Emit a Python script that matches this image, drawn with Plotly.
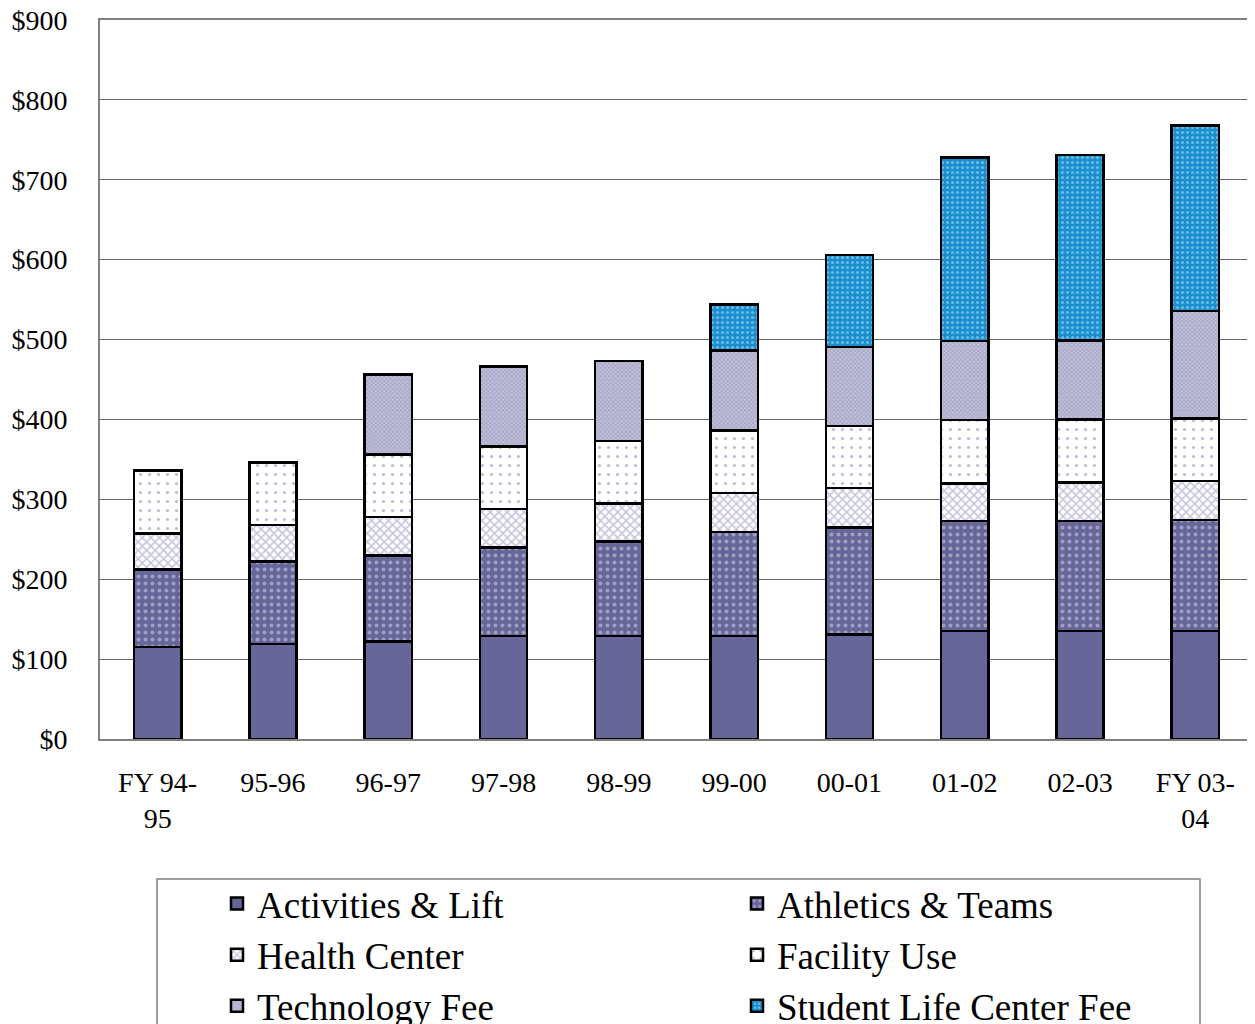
import plotly.graph_objects as go

categories = ["FY 94-<br>95", "95-96", "96-97", "97-98", "98-99", "99-00",
              "00-01", "01-02", "02-03", "FY 03-<br>04"]
activities = [115, 119, 122, 129, 129, 129, 131, 135, 135, 135]
athletics = [97, 103, 108, 111, 118, 130, 134, 138, 138, 139]
health = [45, 46, 48, 48, 48, 49, 49, 47, 48, 49]
facility = [79, 78, 78, 78, 78, 78, 78, 79, 79, 78]
technology = [None, None, 100, 100, 100, 100, 99, 99, 99, 135]
student_life = [None, None, None, None, None, 58, 115, 230, 232, 232]

y_ticks = [0, 100, 200, 300, 400, 500, 600, 700, 800, 900]
y_tick_labels = ["$0", "$100", "$200", "$300", "$400", "$500", "$600",
                 "$700", "$800", "$900"]

FONT = "Liberation Serif, Times New Roman, serif"

series = [
    ("Activities & Lift", activities, dict(color="#666699")),
    ("Athletics & Teams", athletics, dict(color="#666699",
        pattern=dict(shape=".", bgcolor="#666699", fgcolor="#d8d8f0", size=7, solidity=0.25, fillmode="overlay"))),
    ("Health Center", health, dict(color="#ffffff",
        pattern=dict(shape="x", bgcolor="#ffffff", fgcolor="#8a8abd", size=6, solidity=0.45, fillmode="overlay"))),
    ("Facility Use", facility, dict(color="#ffffff",
        pattern=dict(shape=".", bgcolor="#ffffff", fgcolor="#7777aa", size=9, solidity=0.1, fillmode="overlay"))),
    ("Technology Fee", technology, dict(color="#b8b8d2",
        pattern=dict(shape="x", bgcolor="#c2c2da", fgcolor="#8888b4", size=3, solidity=0.5, fillmode="overlay"))),
    ("Student Life Center Fee", student_life, dict(color="#1a8fcf",
        pattern=dict(shape=".", bgcolor="#1a8fcf", fgcolor="#b8e4ff", size=5, solidity=0.3, fillmode="overlay"))),
]

fig = go.Figure()
for name, vals, mk in series:
    mk = dict(mk)
    mk["line"] = dict(color="#000000", width=2.5)
    fig.add_trace(go.Bar(name=name, x=categories, y=vals, marker=mk))

# page has an 8px body margin; size figure so it fills the 1255x1024 window
OFF = 8
W, H = 1255 - OFF, 1024 - OFF
L, R, T = 100 - OFF, 2, 20 - OFF
B = H - (739 - OFF)
pw = W - L - R
ph = H - T - B

def px_x(p):
    # p: page pixel
    return (p - OFF - L) / pw

def px_y(p):
    return (H - B - (p - OFF)) / ph

fig.update_layout(
    width=W, height=H,
    barmode="stack",
    bargap=0.59,
    plot_bgcolor="#ffffff",
    paper_bgcolor="#ffffff",
    margin=dict(l=L, r=R, t=T, b=B, autoexpand=False),
    font=dict(family=FONT, size=28, color="#000000"),
    showlegend=True,
    legend=dict(
        orientation="h",
        x=px_x(217), xanchor="left",
        y=px_y(873), yanchor="top",
        entrywidth=475,
        traceorder="normal",
        font=dict(family=FONT, size=37, color="#000000"),
        bgcolor="rgba(0,0,0,0)",
        borderwidth=0,
    ),
    xaxis=dict(
        type="category",
        showline=True, linecolor="#808080", linewidth=2, mirror=True,
        ticks="", ticklabelstandoff=17,
        tickfont=dict(family=FONT, size=28),
    ),
    yaxis=dict(
        range=[0, 900], tickmode="array", tickvals=y_ticks, ticktext=y_tick_labels,
        showgrid=True, gridcolor="#666666", gridwidth=1,
        showline=True, linecolor="#808080", linewidth=2, mirror=True,
        ticks="", ticklabelstandoff=25, ticklabeloverflow="allow",
        tickfont=dict(family=FONT, size=28),
        zeroline=False,
    ),
    shapes=[dict(
        type="rect", xref="paper", yref="paper",
        x0=px_x(157), x1=px_x(1200), y0=px_y(879), y1=px_y(1060),
        line=dict(color="#808080", width=1.5), fillcolor="rgba(0,0,0,0)",
        layer="below",
    )],
)

fig.write_html("out.html")
